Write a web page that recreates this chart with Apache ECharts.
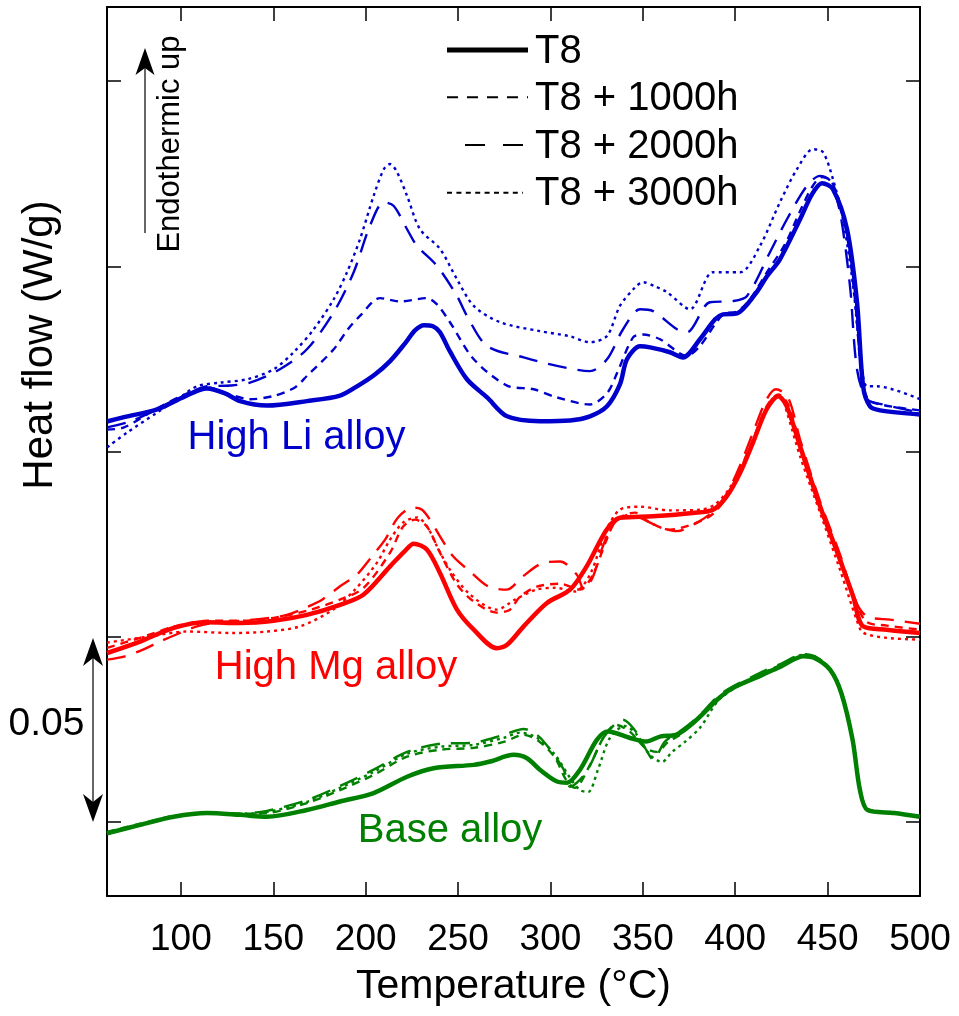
<!DOCTYPE html>
<html>
<head>
<meta charset="utf-8">
<script src="https://cdn.jsdelivr.net/npm/echarts@6/dist/echarts.min.js"></script>
<style>
html,body{margin:0;padding:0;background:#fff;}
#chart{width:959px;height:1016px;}
</style>
</head>
<body>
<div id="chart"></div>
<script>
// ---------- tick labels ----------
const xTicks = [100, 150, 200, 250, 300, 350, 400, 450, 500];
const yTicks = [0, 0.05, 0.10, 0.15, 0.20];

// ---------- High Li alloy ----------
const liT8 = [[60,0.1081],[68.7,0.1092],[87.1,0.1114],[102.2,0.1149],[114.1,0.1170],[123.9,0.1157],[132.0,0.1136],[146.6,0.1124],[168.2,0.1136],[186.1,0.1151],[195.3,0.1176],[205.0,0.1208],[213.2,0.1244],[221.3,0.1292],[226.7,0.1327],[231.6,0.1341],[236.4,0.1338],[240.2,0.1322],[245.6,0.1270],[254.8,0.1195],[265.7,0.1146],[276.5,0.1095],[294.3,0.1082],[310.6,0.1084],[321.4,0.1095],[330.6,0.1122],[337.6,0.1181],[341.4,0.1249],[348.5,0.1284],[353.9,0.1281],[364.7,0.1268],[371.7,0.1254],[380.9,0.1303],[389.1,0.1357],[393.4,0.1370],[401.0,0.1373],[410.7,0.1424],[417.2,0.1473],[424.2,0.1519],[435.1,0.1627],[441.6,0.1695],[447.0,0.1724],[452.9,0.1708],[460.5,0.1600],[465.9,0.1403],[469.2,0.1176],[472.9,0.1122],[478.4,0.1111],[500,0.1100]];
const li1000 = [[60,0.1059],[69.2,0.1065],[87.1,0.1116],[102.2,0.1154],[114.1,0.1173],[126.6,0.1154],[137.4,0.1141],[150.2,0.1150],[161.7,0.1173],[168.2,0.1204],[182.7,0.1276],[190.4,0.1330],[196.9,0.1366],[207.8,0.1414],[218.6,0.1405],[233.2,0.1414],[238.6,0.1397],[245.6,0.1349],[258.5,0.1249],[276.5,0.1178],[290.9,0.1168],[303.5,0.1146],[321.4,0.1127],[330.6,0.1157],[336.0,0.1211],[344.7,0.1308],[350.1,0.1316],[359.3,0.1303],[373.9,0.1258],[380.9,0.1285],[393.4,0.1370],[401.0,0.1378],[408.0,0.1411],[417.2,0.1484],[426.9,0.1559],[435.1,0.1649],[441.6,0.1714],[447.0,0.1741],[452.4,0.1727],[459.4,0.1614],[464.8,0.1411],[468.6,0.1195],[471.9,0.1141],[478.4,0.1127],[500,0.1111]];
const li2000 = [[60,0.1065],[72.4,0.1081],[87.1,0.1114],[102.2,0.1151],[114.1,0.1176],[126.6,0.1178],[137.4,0.1186],[153.6,0.1222],[168.2,0.1276],[182.7,0.1376],[193.5,0.1484],[202.3,0.1609],[209.8,0.1673],[215.2,0.1663],[222.4,0.1600],[227.8,0.1555],[238.6,0.1501],[249.4,0.1420],[254.8,0.1366],[265.7,0.1285],[285.5,0.1254],[303.5,0.1231],[321.4,0.1217],[330.6,0.1249],[339.3,0.1330],[348.5,0.1384],[355.5,0.1379],[368.5,0.1330],[373.9,0.1322],[386.3,0.1403],[398.8,0.1406],[406.4,0.1420],[418.8,0.1538],[428.0,0.1627],[438.8,0.1717],[445.9,0.1744],[451.3,0.1731],[456.7,0.1646],[462.1,0.1447],[465.9,0.1222],[471.3,0.1141],[480.0,0.1127],[500,0.1105]];
const li3000 = [[60,0.1011],[70.8,0.1051],[87.1,0.1105],[99.5,0.1146],[108.7,0.1176],[121.2,0.1186],[135.8,0.1195],[150.2,0.1222],[161.0,0.1268],[171.9,0.1330],[182.7,0.1411],[189.9,0.1484],[196.9,0.1573],[204.3,0.1690],[209.8,0.1762],[213.2,0.1776],[216.9,0.1755],[222.4,0.1690],[229.4,0.1600],[240.2,0.1547],[249.4,0.1465],[258.5,0.1393],[272.7,0.1349],[294.3,0.1325],[310.6,0.1311],[321.4,0.1295],[330.6,0.1312],[337.6,0.1393],[345.8,0.1443],[350.1,0.1457],[356.6,0.1446],[363.1,0.1430],[375.5,0.1384],[388.0,0.1484],[402.6,0.1484],[413.4,0.1555],[424.2,0.1673],[433.4,0.1762],[442.1,0.1816],[447.5,0.1808],[452.9,0.1735],[458.3,0.1627],[463.8,0.1447],[467.5,0.1268],[471.3,0.1176],[476.7,0.1176],[500,0.1141]];

// ---------- High Mg alloy ----------
const mgT8 = [[60,0.0456],[77.9,0.0487],[96.1,0.0524],[114.1,0.0539],[132.0,0.0537],[150.2,0.0543],[168.2,0.0559],[186.1,0.0586],[198.9,0.0614],[213.2,0.0690],[221.3,0.0732],[226.0,0.0751],[233.2,0.0735],[240.2,0.0672],[249.4,0.0573],[258.5,0.0519],[270.9,0.0469],[276.5,0.0478],[285.5,0.0528],[298.1,0.0591],[310.6,0.0627],[319.6,0.0690],[330.4,0.0789],[337.6,0.0821],[355.5,0.0825],[377.1,0.0834],[388.0,0.0843],[395.4,0.0879],[402.6,0.0942],[409.6,0.1024],[417.0,0.1114],[423.3,0.1149],[427.9,0.1122],[435.1,0.1014],[445.9,0.0852],[456.7,0.0708],[463.8,0.0609],[469.2,0.0528],[482.0,0.0519],[500,0.0510]];
const mg1000 = [[60,0.0470],[77.9,0.0497],[96.1,0.0527],[114.1,0.0543],[132.0,0.0543],[150.2,0.0551],[168.2,0.0570],[186.1,0.0600],[198.9,0.0632],[213.2,0.0727],[220.2,0.0797],[226.7,0.0816],[233.2,0.0797],[240.2,0.0727],[249.4,0.0641],[258.5,0.0595],[270.9,0.0565],[278.1,0.0573],[283.5,0.0608],[292.6,0.0635],[305.2,0.0643],[316.0,0.0627],[323.0,0.0668],[330.4,0.0762],[335.9,0.0816],[345.8,0.0835],[353.9,0.0808],[364.7,0.0789],[379.3,0.0808],[388.0,0.0832],[395.4,0.0878],[402.6,0.0951],[409.6,0.1032],[417.0,0.1122],[423.3,0.1154],[428.6,0.1127],[435.1,0.1019],[445.9,0.0857],[456.7,0.0714],[463.8,0.0616],[470.8,0.0541],[482.0,0.0530],[500,0.0519]];
const mg2000 = [[60,0.0438],[69.7,0.0447],[79.5,0.0465],[88.7,0.0487],[99.5,0.0510],[108.7,0.0528],[117.4,0.0537],[132.0,0.0543],[148.2,0.0551],[157.4,0.0559],[167.2,0.0578],[176.4,0.0600],[186.1,0.0636],[195.3,0.0668],[203.4,0.0717],[210.5,0.0762],[217.5,0.0822],[225.6,0.0849],[230.5,0.0843],[234.8,0.0816],[240.2,0.0771],[247.3,0.0717],[256.5,0.0676],[266.2,0.0636],[276.3,0.0627],[285.1,0.0663],[295.9,0.0699],[305.2,0.0703],[314.2,0.0668],[318.2,0.0627],[323.0,0.0662],[327.7,0.0735],[333.9,0.0803],[343.1,0.0830],[353.9,0.0808],[359.3,0.0795],[368.5,0.0785],[379.3,0.0808],[388.0,0.0838],[395.4,0.0886],[402.6,0.0962],[409.6,0.1051],[417.0,0.1141],[422.1,0.1168],[428.6,0.1146],[435.1,0.1032],[445.9,0.0865],[456.7,0.0722],[464.8,0.0600],[471.2,0.0555],[483.8,0.0546],[500,0.0535]];
const mg3000 = [[60,0.0484],[83.3,0.0501],[103.1,0.0514],[128.2,0.0510],[146.6,0.0514],[164.5,0.0528],[182.3,0.0573],[194.2,0.0627],[206.1,0.0700],[213.2,0.0762],[220.2,0.0808],[227.8,0.0822],[233.2,0.0798],[238.6,0.0744],[245.6,0.0681],[256.5,0.0614],[270.9,0.0573],[280.8,0.0600],[292.2,0.0627],[302.5,0.0632],[313.3,0.0622],[321.4,0.0668],[330.4,0.0789],[337.6,0.0843],[348.5,0.0851],[364.7,0.0841],[380.9,0.0843],[389.1,0.0857],[397.2,0.0903],[405.3,0.0978],[413.4,0.1073],[420.5,0.1141],[424.8,0.1146],[428.0,0.1105],[435.1,0.0987],[445.9,0.0835],[456.7,0.0681],[465.7,0.0546],[469.2,0.0511],[482.0,0.0497],[500,0.0492]];

// ---------- Base alloy ----------
const baseT8 = [[60,-0.0031],[77.9,-0.0008],[96.1,0.0014],[114.1,0.0024],[132.0,0.0019],[146.6,0.0014],[168.2,0.0032],[186.1,0.0055],[204.3,0.0078],[222.4,0.0122],[236.8,0.0145],[258.5,0.0154],[267.3,0.0163],[280.1,0.0181],[287.3,0.0172],[294.3,0.0141],[303.6,0.0109],[309.0,0.0106],[316.0,0.0141],[325.2,0.0222],[331.2,0.0244],[343.5,0.0226],[351.6,0.0217],[359.7,0.0231],[367.9,0.0235],[378.1,0.0271],[392.3,0.0339],[400.4,0.0366],[414.7,0.0397],[424.8,0.0420],[437.1,0.0447],[443.2,0.0442],[451.3,0.0411],[457.4,0.0348],[463.5,0.0222],[467.5,0.0086],[471.6,0.0032],[486.0,0.0024],[500,0.0014]];
const base1000 = [[60,-0.0027],[77.9,-0.0005],[96.1,0.0016],[114.1,0.0024],[132.0,0.0022],[146.6,0.0024],[168.2,0.0051],[186.1,0.0086],[204.3,0.0127],[222.4,0.0176],[240.4,0.0195],[258.5,0.0200],[274.7,0.0216],[285.5,0.0235],[294.3,0.0216],[302.5,0.0173],[308.4,0.0114],[313.2,0.0092],[321.4,0.0154],[329.5,0.0235],[335.5,0.0262],[343.1,0.0243],[351.2,0.0200],[357.7,0.0189],[363.6,0.0216],[370.1,0.0235],[379.9,0.0281],[392.3,0.0341],[414.5,0.0400],[424.8,0.0424],[437.1,0.0450],[443.2,0.0446],[451.3,0.0414],[457.4,0.0351],[463.5,0.0224],[467.5,0.0089],[471.6,0.0035],[486.0,0.0024],[500,0.0015]];
const base2000 = [[60,-0.0032],[77.9,-0.0008],[96.1,0.0014],[114.1,0.0023],[132.0,0.0022],[146.6,0.0030],[168.2,0.0059],[186.1,0.0097],[204.3,0.0141],[222.4,0.0189],[240.4,0.0211],[258.5,0.0214],[274.7,0.0235],[285.5,0.0251],[292.7,0.0235],[299.9,0.0195],[307.2,0.0141],[310.7,0.0095],[316.0,0.0114],[321.1,0.0149],[329.2,0.0231],[339.3,0.0276],[345.5,0.0249],[351.2,0.0200],[355.7,0.0168],[361.8,0.0216],[369.9,0.0244],[380.1,0.0285],[392.3,0.0346],[414.5,0.0405],[424.8,0.0427],[437.1,0.0453],[443.2,0.0447],[451.3,0.0414],[457.4,0.0351],[463.5,0.0224],[467.5,0.0089],[471.6,0.0035],[486.0,0.0024],[500,0.0015]];
const base3000 = [[60,-0.0030],[77.9,-0.0007],[96.1,0.0015],[114.1,0.0024],[132.0,0.0022],[146.6,0.0027],[168.2,0.0054],[186.1,0.0092],[204.3,0.0135],[222.4,0.0184],[240.4,0.0203],[258.5,0.0208],[274.7,0.0227],[283.5,0.0241],[292.7,0.0227],[302.5,0.0181],[310.6,0.0119],[316.0,0.0086],[320.4,0.0081],[325.7,0.0141],[332.2,0.0227],[340.3,0.0259],[346.8,0.0235],[353.8,0.0181],[360.4,0.0162],[365.8,0.0189],[372.8,0.0216],[380.9,0.0254],[392.3,0.0335],[414.5,0.0400],[424.8,0.0424],[437.1,0.0451],[443.2,0.0446],[451.3,0.0414],[457.4,0.0351],[463.5,0.0224],[467.5,0.0089],[471.6,0.0035],[486.0,0.0024],[500,0.0015]];

const legendNames = ['T8', 'T8 + 1000h', 'T8 + 2000h', 'T8 + 3000h'];
const alloyNames = ['High Li alloy', 'High Mg alloy', 'Base alloy'];

// ---------- styles ----------
const FONT = "'Liberation Sans', Arial, sans-serif";
const BLUE = '#0000cd', RED = '#ff0000', GREEN = '#008000';
const styles = [
  {width: 4.5, type: 'solid'},
  {width: 2.4, type: [8, 6]},
  {width: 2.4, type: [19, 11]},
  {width: 2.4, type: [3, 4]}
];

const groups = [
  {color: BLUE, name: alloyNames[0], sets: [liT8, li1000, li2000, li3000]},
  {color: RED, name: alloyNames[1], sets: [mgT8, mg1000, mg2000, mg3000]},
  {color: GREEN, name: alloyNames[2], sets: [baseT8, base1000, base2000, base3000]}
];

const series = [];
groups.forEach(g => {
  [1, 2, 3, 0].forEach(k => {
    series.push({
      name: g.name + ' ' + legendNames[k],
      type: 'line',
      data: g.sets[k],
      showSymbol: false, symbol: 'none',
      smooth: 0.3,
      silent: true,
      lineStyle: {color: g.color, width: styles[k].width, type: styles[k].type, cap: 'butt', join: 'round'},
      z: k === 0 ? 3 : 2
    });
  });
});

const axisLineStyle = {color: '#000', width: 2};
const tickStyle = {color: '#000', width: 1.5};

// legend drawn as graphic (black line styles + text)
const legendRows = [
  {y: 50, x1: 447, x2: 528, w: 5, dash: null},
  {y: 97.3, x1: 447, x2: 528, w: 2, dash: [11, 9]},
  {y: 145, x1: 465, x2: 523, w: 2, dash: [20, 18]},
  {y: 192.7, x1: 447, x2: 523, w: 2, dash: [5, 4.4]}
];
const legendGraphics = [];
legendRows.forEach((r, k) => {
  legendGraphics.push({type: 'line', shape: {x1: r.x1, y1: r.y, x2: r.x2, y2: r.y},
    style: {stroke: '#000', lineWidth: r.w, lineDash: r.dash}});
  legendGraphics.push({type: 'text', x: 535, y: r.y + 1.5,
    style: {text: legendNames[k], x: 0, y: 0, align: 'left', verticalAlign: 'middle', font: '40px ' + FONT, fill: '#000'}});
});

const option = {
  animation: false,
  backgroundColor: '#fff',
  grid: {left: 107, right: 39, top: 7, bottom: 120, containLabel: false},
  xAxis: [
    {
      type: 'value', min: 60, max: 500, position: 'bottom',
      name: 'Temperature (°C)', nameLocation: 'middle', nameGap: 70,
      nameTextStyle: {fontFamily: FONT, fontSize: 41, color: '#000'},
      axisLine: {show: true, onZero: false, lineStyle: axisLineStyle},
      axisTick: {show: true, inside: true, length: 14, lineStyle: tickStyle, customValues: xTicks},
      axisLabel: {show: true, margin: 25, fontFamily: FONT, fontSize: 37, color: '#000', customValues: xTicks},
      splitLine: {show: false}
    },
    {
      type: 'value', min: 60, max: 500, position: 'top',
      axisLine: {show: true, onZero: false, lineStyle: axisLineStyle},
      axisTick: {show: true, inside: true, length: 14, lineStyle: tickStyle, customValues: xTicks},
      axisLabel: {show: false},
      splitLine: {show: false}
    }
  ],
  yAxis: [
    {
      type: 'value', min: -0.02, max: 0.22, position: 'left',
      axisLine: {show: true, onZero: false, lineStyle: axisLineStyle},
      axisTick: {show: true, inside: true, length: 14, lineStyle: tickStyle, customValues: yTicks},
      axisLabel: {show: false},
      splitLine: {show: false}
    },
    {
      type: 'value', min: -0.02, max: 0.22, position: 'right',
      axisLine: {show: true, onZero: false, lineStyle: axisLineStyle},
      axisTick: {show: true, inside: true, length: 14, lineStyle: tickStyle, customValues: yTicks},
      axisLabel: {show: false},
      splitLine: {show: false}
    }
  ],
  series: series,
  graphic: legendGraphics.concat([
    // y-axis title
    {type: 'text', x: 40, y: 345, rotation: Math.PI / 2,
     style: {text: 'Heat flow (W/g)', x: 0, y: 0, align: 'center', verticalAlign: 'middle', font: '42px ' + FONT, fill: '#000'}},
    // Endothermic up
    {type: 'text', x: 170, y: 144, rotation: Math.PI / 2,
     style: {text: 'Endothermic up', x: 0, y: 0, align: 'center', verticalAlign: 'middle', font: '31px ' + FONT, fill: '#000'}},
    {type: 'line', shape: {x1: 145, y1: 233, x2: 145, y2: 66}, style: {stroke: '#000', lineWidth: 1.2}},
    {type: 'polygon', shape: {points: [[145, 48], [135.5, 75], [145, 68], [154.5, 75]]}, style: {fill: '#000'}},
    // scale bar
    {type: 'line', shape: {x1: 93, y1: 655, x2: 93, y2: 805}, style: {stroke: '#000', lineWidth: 1.2}},
    {type: 'polygon', shape: {points: [[93, 638], [83, 666], [93, 658], [103, 666]]}, style: {fill: '#000'}},
    {type: 'polygon', shape: {points: [[93, 822], [83, 794], [93, 802], [103, 794]]}, style: {fill: '#000'}},
    {type: 'text', x: 46.5, y: 724,
     style: {text: '0.05', x: 0, y: 0, align: 'center', verticalAlign: 'middle', font: '39px ' + FONT, fill: '#000'}},
    // alloy labels
    {type: 'text', x: 296.5, y: 438,
     style: {text: alloyNames[0], x: 0, y: 0, align: 'center', verticalAlign: 'middle', font: '40px ' + FONT, fill: BLUE}},
    {type: 'text', x: 336, y: 668,
     style: {text: alloyNames[1], x: 0, y: 0, align: 'center', verticalAlign: 'middle', font: '40px ' + FONT, fill: RED}},
    {type: 'text', x: 450, y: 831,
     style: {text: alloyNames[2], x: 0, y: 0, align: 'center', verticalAlign: 'middle', font: '40px ' + FONT, fill: GREEN}}
  ])
};

const chart = echarts.init(document.getElementById('chart'), null, {renderer: 'canvas'});
chart.setOption(option);
</script>
</body>
</html>
